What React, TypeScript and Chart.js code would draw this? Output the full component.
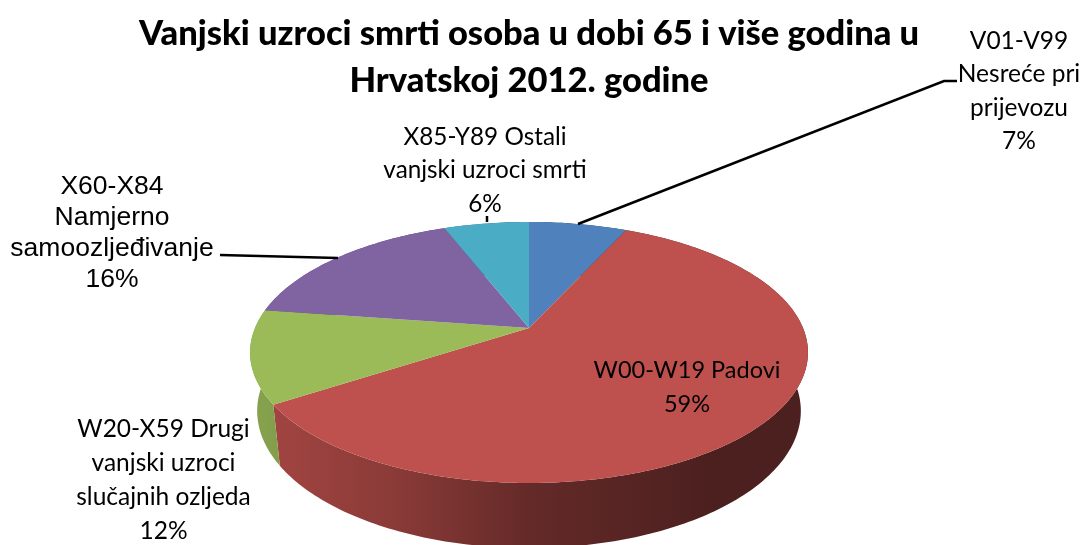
import React, { useEffect, useRef } from "react";
import { Chart, registerables } from "chart.js";

Chart.register(...registerables);

const categories = [
  "V01-V99 Nesreće pri prijevozu",
  "W00-W19 Padovi",
  "W20-X59 Drugi vanjski uzroci slučajnih ozljeda",
  "X60-X84 Namjerno samoozljeđivanje",
  "X85-Y89 Ostali vanjski uzroci smrti",
];
const values = [6.8, 59, 11.5, 16.8, 5.9];
const percentLabels = ["7%", "59%", "12%", "16%", "6%"];
const sliceColors = ["#4F81BD", "#BE504D", "#9BBB59", "#8064A2", "#4BACC6"];
const titleLines = ["Vanjski uzroci smrti osoba u dobi 65 i više godina u", "Hrvatskoj 2012. godine"];

const CAL = "Lato, Carlito, sans-serif";
const ARIAL = '"Liberation Sans", Arial, sans-serif';

// label text lines (index into categories) and their placement
const labelLines = [
  ["V01-V99", "Nesreće pri", "prijevozu"],
  ["W00-W19 Padovi"],
  ["W20-X59 Drugi", "vanjski uzroci", "slučajnih ozljeda"],
  ["X60-X84", "Namjerno", "samoozljeđivanje"],
  ["X85-Y89 Ostali", "vanjski uzroci smrti"],
];
const labelPlace = [
  { x: 1019, y: 41, lh: 33.3, font: `24.5px ${CAL}` },
  { x: 687, y: 370, lh: 34, font: `23.5px ${CAL}` },
  { x: 163.5, y: 429, lh: 34, font: `24.5px ${CAL}` },
  { x: 112, y: 187, lh: 31, font: `26.5px ${ARIAL}` },
  { x: 485, y: 137, lh: 33.5, font: `24.3px ${CAL}` },
];
const leaders = [
  [[578, 224], [944, 81], [957, 81]],
  [[220, 255], [338, 258]],
  [[487, 216], [487, 222]],
];

// perspective of the tilted disc
const K = 0.1877;
const TOP = { py: 328, a: 274, b: 125.9 };
const BOTTOM = { py: 385.3, a: 267, b: 132.2 };

function project(theta: number, cx: number, f: { py: number; a: number; b: number }) {
  const u = Math.sin(theta);
  const w = Math.cos(theta);
  const p = 1 / (1 + K * w);
  return [cx + f.a * u * p, f.py - f.b * w * p];
}

function shade(hex: string, m: number) {
  const n = parseInt(hex.slice(1), 16);
  const c = [(n >> 16) & 255, (n >> 8) & 255, n & 255].map((v) => Math.round(v * m));
  return `rgb(${c[0]},${c[1]},${c[2]})`;
}

const disc3d = {
  id: "disc3d",
  beforeDatasetsDraw(chart: any) {
    const ctx = chart.ctx;
    const arcs = chart.getDatasetMeta(0).data;
    const cx = arcs[0].x;
    const step = Math.PI / 180;

    // side wall
    arcs.forEach((arc: any) => {
      const t0 = arc.startAngle + Math.PI / 2;
      const t1 = arc.endAngle + Math.PI / 2;
      const color = arc.options.backgroundColor;
      const g = ctx.createLinearGradient(265, 0, 710, 0);
      g.addColorStop(0, shade(color, 0.86));
      g.addColorStop(0.3, shade(color, 0.72));
      g.addColorStop(0.6, shade(color, 0.52));
      g.addColorStop(1, shade(color, 0.4));
      ctx.beginPath();
      for (let t = t0; t < t1; t += step) {
        const p = project(t, cx, TOP);
        ctx.lineTo(p[0], p[1]);
      }
      let e = project(t1, cx, TOP);
      ctx.lineTo(e[0], e[1]);
      for (let t = t1; t > t0; t -= step) {
        const p = project(t, cx, BOTTOM);
        ctx.lineTo(p[0], p[1]);
      }
      e = project(t0, cx, BOTTOM);
      ctx.lineTo(e[0], e[1]);
      ctx.closePath();
      ctx.fillStyle = g;
      ctx.fill();
    });

    // top face
    arcs.forEach((arc: any) => {
      const t0 = arc.startAngle + Math.PI / 2;
      const t1 = arc.endAngle + Math.PI / 2;
      ctx.beginPath();
      ctx.moveTo(cx, TOP.py);
      for (let t = t0; t < t1; t += step) {
        const p = project(t, cx, TOP);
        ctx.lineTo(p[0], p[1]);
      }
      const e = project(t1, cx, TOP);
      ctx.lineTo(e[0], e[1]);
      ctx.closePath();
      ctx.fillStyle = arc.options.backgroundColor;
      ctx.fill();
    });
    return false;
  },
  afterDraw(chart: any) {
    const ctx = chart.ctx;
    ctx.save();
    ctx.strokeStyle = "#000";
    ctx.lineWidth = 2.5;
    leaders.forEach((pts) => {
      ctx.beginPath();
      pts.forEach((p, i) => (i ? ctx.lineTo(p[0], p[1]) : ctx.moveTo(p[0], p[1])));
      ctx.stroke();
    });
    ctx.fillStyle = "#000";
    ctx.textAlign = "center";
    ctx.textBaseline = "middle";
    labelLines.forEach((lines, i) => {
      const pl = labelPlace[i];
      ctx.font = pl.font;
      const all = [...lines, percentLabels[i]];
      all.forEach((s, j) => ctx.fillText(s, pl.x, pl.y + j * pl.lh));
    });
    ctx.restore();
  },
};

export default function App() {
  const ref = useRef<HTMLCanvasElement>(null);
  useEffect(() => {
    const chart = new Chart(ref.current!, {
      type: "pie",
      data: {
        labels: categories,
        datasets: [{ data: values, backgroundColor: sliceColors, borderWidth: 0 }],
      },
      options: {
        responsive: false,
        animation: false,
        layout: { padding: { right: 25 } },
        plugins: {
          legend: { display: false },
          tooltip: { enabled: false },
          title: {
            display: true,
            text: titleLines,
            color: "#000",
            font: { family: CAL, weight: "900", size: 34.5, lineHeight: 1.36 },
            padding: { top: 10, bottom: 0 },
          },
        },
      },
      plugins: [disc3d],
    } as any);
    return () => chart.destroy();
  }, []);
  return (
    <div style={{ position: "fixed", left: 0, top: 0, width: 1083, height: 545, overflow: "hidden", background: "#fff" }}>
      <canvas ref={ref} width={1083} height={545} style={{ display: "block" }} />
    </div>
  );
}
